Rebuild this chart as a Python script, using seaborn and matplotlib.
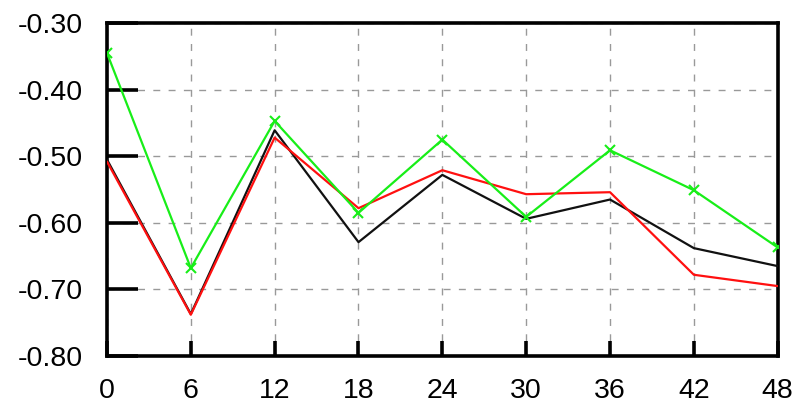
import matplotlib
matplotlib.use("Agg")
import matplotlib.pyplot as plt
import seaborn as sns
import pandas as pd

hours = [0, 6, 12, 18, 24, 30, 36, 42, 48]
black_vals = [-0.505, -0.737, -0.461, -0.629, -0.528, -0.594, -0.565, -0.638, -0.665]
red_vals = [-0.508, -0.738, -0.472, -0.578, -0.521, -0.557, -0.554, -0.678, -0.695]
green_vals = [-0.345, -0.668, -0.447, -0.585, -0.475, -0.591, -0.491, -0.551, -0.637]
y_ticks = [-0.80, -0.70, -0.60, -0.50, -0.40, -0.30]

sns.set_theme(style="white")
plt.rcParams["font.family"] = ["Liberation Sans", "DejaVu Sans"]

fig = plt.figure(figsize=(7.96, 4.05), dpi=100)
ax = fig.add_axes([0.1344, 0.121, 0.8426, 0.822])

df = pd.DataFrame({"hour": hours, "black": black_vals, "red": red_vals, "green": green_vals})

sns.lineplot(data=df, x="hour", y="black", ax=ax, color="#111111", lw=1.6, zorder=3)
sns.lineplot(data=df, x="hour", y="red", ax=ax, color="#ff1010", lw=1.6, zorder=4)
sns.lineplot(data=df, x="hour", y="green", ax=ax, color="#18ee18", lw=1.6, zorder=5,
             marker="x", markersize=7, markeredgewidth=1.5, markeredgecolor="#18ee18")

ax.set_xlim(0, 48)
ax.set_ylim(-0.80, -0.30)
ax.set_xticks(hours)
ax.set_yticks(y_ticks)
ax.set_yticklabels([f"{v:.2f}" for v in y_ticks])
ax.set_xlabel("")
ax.set_ylabel("")

ax.grid(True, color="#999999", linestyle=(0, (5, 6)), linewidth=1.0)
for s in ax.spines.values():
    s.set_visible(True)
    s.set_color("black")
    s.set_linewidth(2.6)

ax.tick_params(axis="y", which="major", direction="in", length=22, width=2.6,
               labelsize=20.5, pad=17, left=True, colors="black")
ax.tick_params(axis="x", which="major", direction="in", length=11, width=2.6,
               labelsize=20.5, pad=16, bottom=True, colors="black")

fig.savefig("out.png", dpi=100)
